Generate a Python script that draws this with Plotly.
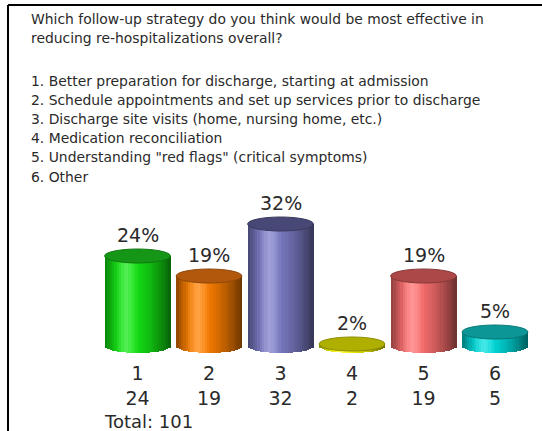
import math
import plotly.graph_objects as go

# ---------------- data ----------------
title_lines = [
    "Which follow-up strategy do you think would be most effective in",
    "reducing re-hospitalizations overall?",
]
option_lines = [
    "1. Better preparation for discharge, starting at admission",
    "2. Schedule appointments and set up services prior to discharge",
    "3. Discharge site visits (home, nursing home, etc.)",
    "4. Medication reconciliation",
    "5. Understanding \"red flags\" (critical symptoms)",
    "6. Other",
]
categories = [1, 2, 3, 4, 5, 6]
counts = [24, 19, 32, 2, 19, 5]
percents = [24, 19, 32, 2, 19, 5]
total = sum(counts)

# ---------------- style ----------------
W_PX, H_PX = 542, 431
body_rgb = [(20, 232, 20), (255, 128, 0), (126, 126, 202),
            (250, 250, 0), (255, 112, 112), (0, 222, 222)]
cap_rgb = [(22, 150, 22), (178, 88, 12), (72, 72, 118),
           (175, 175, 0), (172, 72, 72), (12, 150, 150)]
BAR_W = 0.92          # cylinder width (category units)
CAP_D = 1.75          # ellipse half height (value units)
CYL_BASE = 1.5        # bottom ellipse centre (value units)
N_STRIPS = 28
FONT = "DejaVu Sans"
TXT = "#2a2a2a"
TITLE_SIZE = 13.9
LABEL_SIZE = 19


def shade(rgb, t):
    # brightness profile across the cylinder (t = 0 left edge, 1 right edge)
    peak = 0.33
    if t <= peak:
        f = 0.55 + 0.45 * math.sin((t / peak) * math.pi / 2)
    else:
        f = 1.0 - 0.58 * ((t - peak) / (1 - peak)) ** 1.6
    hl = max(0.0, 1 - abs(t - peak) / 0.18) * 0.28
    out = []
    for c in rgb:
        v = c * f
        v = v + (255 - v) * hl
        out.append(int(max(0, min(255, round(v)))))
    return "rgb(%d,%d,%d)" % tuple(out)


def dark(rgb, k):
    return "rgb(%d,%d,%d)" % tuple(int(c * k) for c in rgb)


fig = go.Figure()

sw = BAR_W / N_STRIPS
for k in range(N_STRIPS):
    t = (k + 0.5) / N_STRIPS
    u = 2 * t - 1
    base = CYL_BASE - CAP_D * math.sqrt(max(0.0, 1 - u * u))
    fig.add_trace(go.Bar(
        x=categories,
        y=[v - base for v in counts],
        base=base,
        width=sw * 1.08,
        offset=-BAR_W / 2 + k * sw,
        marker=dict(color=[shade(c, t) for c in body_rgb], line=dict(width=0)),
        hoverinfo="skip",
        showlegend=False,
    ))

shapes = []
for i, (c, v) in enumerate(zip(categories, counts)):
    shapes.append(dict(
        type="circle", xref="x", yref="y",
        x0=c - BAR_W / 2, x1=c + BAR_W / 2,
        y0=v - CAP_D, y1=v + CAP_D,
        fillcolor=dark(cap_rgb[i], 1.0),
        line=dict(color=dark(cap_rgb[i], 0.8), width=1),
        layer="above",
    ))
# frame lines
shapes.append(dict(type="line", xref="paper", yref="paper",
                   x0=8 / W_PX, x1=1.0, y0=1 - 5 / H_PX, y1=1 - 5 / H_PX,
                   line=dict(color="black", width=2)))
shapes.append(dict(type="line", xref="paper", yref="paper",
                   x0=8 / W_PX, x1=8 / W_PX, y0=0, y1=1 - 5 / H_PX,
                   line=dict(color="black", width=2)))

annotations = []
line_y = [19.5, 38]
for txt, yc in zip(title_lines, line_y):
    annotations.append(dict(text=txt, xref="paper", yref="paper",
                            x=29 / W_PX, y=1 - yc / H_PX,
                            xanchor="left", yanchor="middle", showarrow=False,
                            font=dict(family=FONT, size=TITLE_SIZE, color=TXT)))
for j, txt in enumerate(option_lines):
    yc = 81 + j * 19.1
    annotations.append(dict(text=txt, xref="paper", yref="paper",
                            x=29 / W_PX, y=1 - yc / H_PX,
                            xanchor="left", yanchor="middle", showarrow=False,
                            font=dict(family=FONT, size=TITLE_SIZE, color=TXT)))
for c, v, p in zip(categories, counts, percents):
    annotations.append(dict(text="%d%%" % p, xref="x", yref="y",
                            x=c, y=v, yshift=21,
                            xanchor="center", yanchor="middle", showarrow=False,
                            font=dict(family=FONT, size=LABEL_SIZE, color=TXT)))
annotations.append(dict(text="Total: %d" % total, xref="paper", yref="paper",
                        x=102 / W_PX, y=1 - 421 / H_PX,
                        xanchor="left", yanchor="middle", showarrow=False,
                        font=dict(family=FONT, size=18, color=TXT)))

fig.update_layout(
    width=W_PX, height=H_PX,
    margin=dict(l=0, r=0, t=0, b=0),
    paper_bgcolor="white", plot_bgcolor="white",
    barmode="overlay",
    bargap=0,
    shapes=shapes,
    annotations=annotations,
    xaxis=dict(
        domain=[101.75 / W_PX, 530.75 / W_PX],
        range=[0.5, 6.5],
        tickmode="array",
        tickvals=categories,
        ticktext=["%d<br>%d" % (c, n) for c, n in zip(categories, counts)],
        tickfont=dict(family=FONT, size=LABEL_SIZE, color=TXT),
        ticklabelstandoff=0,
        showgrid=False, zeroline=False, showline=False, ticks="",
        fixedrange=True,
    ),
    yaxis=dict(
        domain=[1 - 360 / H_PX, 1 - 192 / H_PX],
        range=[-2, 40],
        visible=False,
        fixedrange=True,
    ),
)

fig.write_html("out.html")
